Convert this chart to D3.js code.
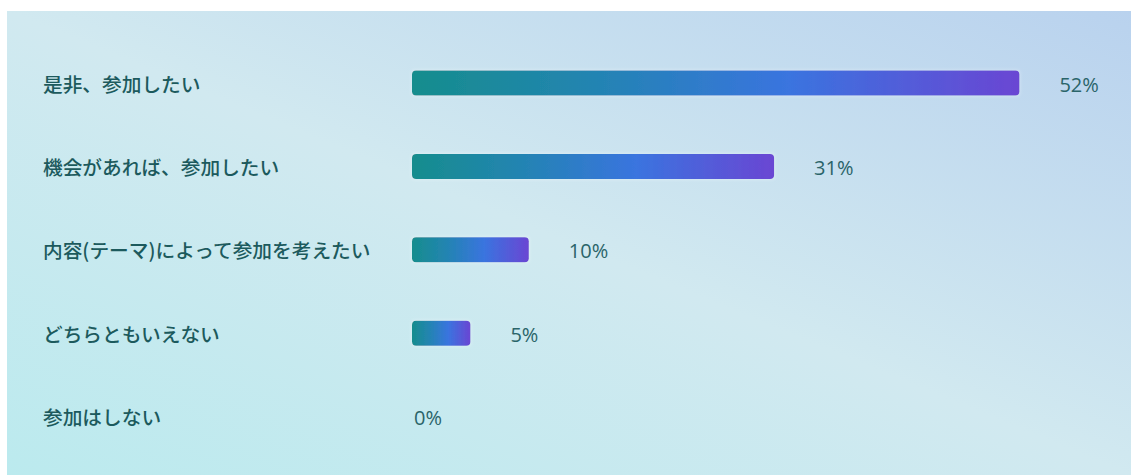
<!DOCTYPE html>
<html>
<head>
<meta charset="utf-8">
<script src="https://cdn.jsdelivr.net/npm/d3@7"></script>
<style>
  html, body { margin: 0; padding: 0; background: #ffffff; }
  svg { display: block; }
</style>
</head>
<body>
<div id="chart"></div>
<script>
// Survey answers and their share of respondents (%)
const categories = [
  "是非、参加したい",
  "機会があれば、参加したい",
  "内容(テーマ)によって参加を考えたい",
  "どちらともいえない",
  "参加はしない"
];
const values = [52, 31, 10, 5, 0];
const valueLabels = ["52%", "31%", "10%", "5%", "0%"];

const W = 1131, H = 475;
const svg = d3.select("#chart").append("svg")
  .attr("width", W).attr("height", H);

const defs = svg.append("defs");

// soft panel background: cyan bottom-left, pale middle, blue top-right
const bg = defs.append("linearGradient").attr("id", "panelBg")
  .attr("x1", 0).attr("y1", 1).attr("x2", 1).attr("y2", 0);
bg.append("stop").attr("offset", 0).attr("stop-color", "#bbeaee");
bg.append("stop").attr("offset", 0.5).attr("stop-color", "#d1e9f0");
bg.append("stop").attr("offset", 1).attr("stop-color", "#b9d2ee");

// bar fill: teal -> blue -> violet across each bar
const barGrad = defs.append("linearGradient").attr("id", "barFill")
  .attr("x1", 0).attr("y1", 0).attr("x2", 1).attr("y2", 0);
[[0, "#168d8d"], [0.3, "#2384b2"], [0.62, "#3a74df"], [1, "#6a46d3"]]
  .forEach(([o, c]) => barGrad.append("stop").attr("offset", o).attr("stop-color", c));

// faint light halo around bars
const glow = defs.append("filter").attr("id", "halo")
  .attr("x", "-10%").attr("y", "-60%").attr("width", "120%").attr("height", "220%");
glow.append("feMorphology").attr("in", "SourceAlpha").attr("operator", "dilate").attr("radius", 1).attr("result", "grow");
glow.append("feGaussianBlur").attr("in", "grow").attr("stdDeviation", 1.5).attr("result", "blur");
glow.append("feFlood").attr("flood-color", "#ffffff").attr("flood-opacity", 0.25);
glow.append("feComposite").attr("in2", "blur").attr("operator", "in").attr("result", "halo");
const merge = glow.append("feMerge");
merge.append("feMergeNode").attr("in", "halo");
merge.append("feMergeNode").attr("in", "SourceGraphic");

svg.append("rect")
  .attr("x", 7).attr("y", 11)
  .attr("width", W - 7).attr("height", H - 11)
  .attr("fill", "url(#panelBg)");

const y = d3.scalePoint().domain(categories).range([41.3, 458.3]).padding(0.5);
const x = d3.scaleLinear().domain([0, 52]).range([412, 1019.4]);
const barH = 25;

const rows = svg.append("g").selectAll("g")
  .data(categories.map((c, i) => ({ c, v: values[i], label: valueLabels[i] })))
  .join("g");

rows.append("text")
  .attr("x", 43)
  .attr("y", d => y(d.c))
  .attr("dominant-baseline", "central")
  .attr("font-family", "'Noto Sans CJK JP', 'Noto Sans', sans-serif")
  .attr("font-size", 19.7)
  .attr("font-weight", 500)
  .attr("fill", "#1c5a5d")
  .text(d => d.c);

rows.filter(d => d.v > 0).append("rect")
  .attr("x", x(0))
  .attr("y", d => y(d.c) - barH / 2)
  .attr("width", d => x(d.v) - x(0))
  .attr("height", barH)
  .attr("rx", 4).attr("ry", 4)
  .attr("fill", "url(#barFill)")
  .attr("filter", "url(#halo)");

rows.append("text")
  .attr("x", d => d.v > 0 ? x(d.v) + 40 : x(0) + 2)
  .attr("y", d => y(d.c) + 1)
  .attr("dominant-baseline", "central")
  .attr("font-family", "'Open Sans', 'Noto Sans', sans-serif")
  .attr("font-size", 20)
  .attr("fill", "#2a6469")
  .text(d => d.label);
</script>
</body>
</html>
